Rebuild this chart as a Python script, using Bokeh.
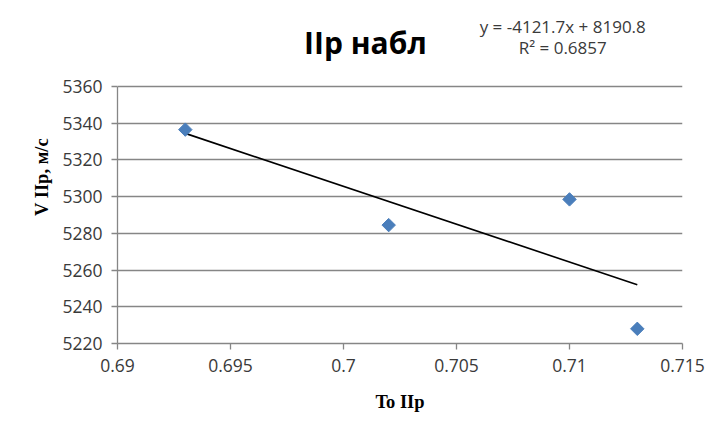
import math
from bokeh.plotting import figure
from bokeh.models import Range1d, FixedTicker, Label
from bokeh.embed import file_html
from bokeh.resources import INLINE

# ---- data ----
x_vals = [0.693, 0.702, 0.710, 0.713]
y_vals = [5336.5, 5284.5, 5298.5, 5228.0]
x_ticks = [0.69, 0.695, 0.7, 0.705, 0.71, 0.715]
x_tick_labels = ["0.69", "0.695", "0.7", "0.705", "0.71", "0.715"]
y_ticks = [5220, 5240, 5260, 5280, 5300, 5320, 5340, 5360]
slope = -4121.7
intercept = 8190.8
title_text = "IIр набл"
eq_text = "y = -4121.7x + 8190.8"
r2_text = "R² = 0.6857"
x_title = "To IIр"
y_title = "V IIр, м/с"

GRID = "#868686"
TXT = "#3a3a3a"
FONT = "Open Sans"

p = figure(width=712, height=421, output_backend="svg", toolbar_location=None,
           x_range=Range1d(0.69, 0.715), y_range=Range1d(5220, 5401.4),
           min_border_left=117, min_border_right=30, min_border_top=10,
           min_border_bottom=78)
p.outline_line_color = None
p.background_fill_color = "white"
p.border_fill_color = "white"

p.xgrid.grid_line_color = None
p.ygrid.grid_line_color = GRID
p.ygrid.grid_line_width = 1.3
p.ygrid.ticker = FixedTicker(ticks=y_ticks)

p.xaxis.ticker = FixedTicker(ticks=x_ticks)
p.yaxis.ticker = FixedTicker(ticks=y_ticks)
p.yaxis.bounds = (y_ticks[0], y_ticks[-1])
p.xaxis.major_label_overrides = {t: l for t, l in zip(x_ticks, x_tick_labels)}

for ax in (p.xaxis, p.yaxis):
    ax.axis_line_color = GRID
    ax.axis_line_width = 1.3
    ax.major_tick_line_color = GRID
    ax.major_tick_line_width = 1.3
    ax.major_tick_out = 6
    ax.major_tick_in = 0
    ax.minor_tick_line_color = None
    ax.major_label_text_font = FONT
    ax.major_label_text_font_size = "17.5px"
    ax.major_label_text_color = TXT
    ax.axis_label_text_font = "Liberation Serif"
    ax.axis_label_text_font_style = "bold"
    ax.axis_label_text_font_size = "18.5px"
    ax.axis_label_text_color = "black"

p.xaxis.axis_label = x_title
p.yaxis.axis_label = y_title
p.xaxis.major_label_standoff = 9
p.yaxis.major_label_standoff = 9
p.xaxis.axis_label_standoff = 17
p.yaxis.axis_label_standoff = 7

# trendline from the equation across the data's x extent
tx = [min(x_vals), max(x_vals)]
ty = [slope * v + intercept for v in tx]
p.line(tx, ty, line_color="black", line_width=1.6)

p.scatter(x_vals, y_vals, marker="square", size=9.5, angle=math.pi / 4,
          fill_color="#4a7ebb", line_color="#4a7ebb", line_width=1)

p.add_layout(Label(x=0.70097, y=5384.0, text=title_text, text_font=FONT,
                   text_font_style="bold", text_font_size="30px",
                   text_color="black", text_align="center",
                   text_baseline="middle"))
p.add_layout(Label(x=0.7097, y=5392.5, text=eq_text, text_font=FONT,
                   text_font_size="17px", text_color=TXT,
                   text_align="center", text_baseline="middle"))
p.add_layout(Label(x=0.7097, y=5381.5, text=r2_text, text_font=FONT,
                   text_font_size="17px", text_color=TXT,
                   text_align="center", text_baseline="middle"))

open("out.html", "w").write(file_html(p, INLINE))
